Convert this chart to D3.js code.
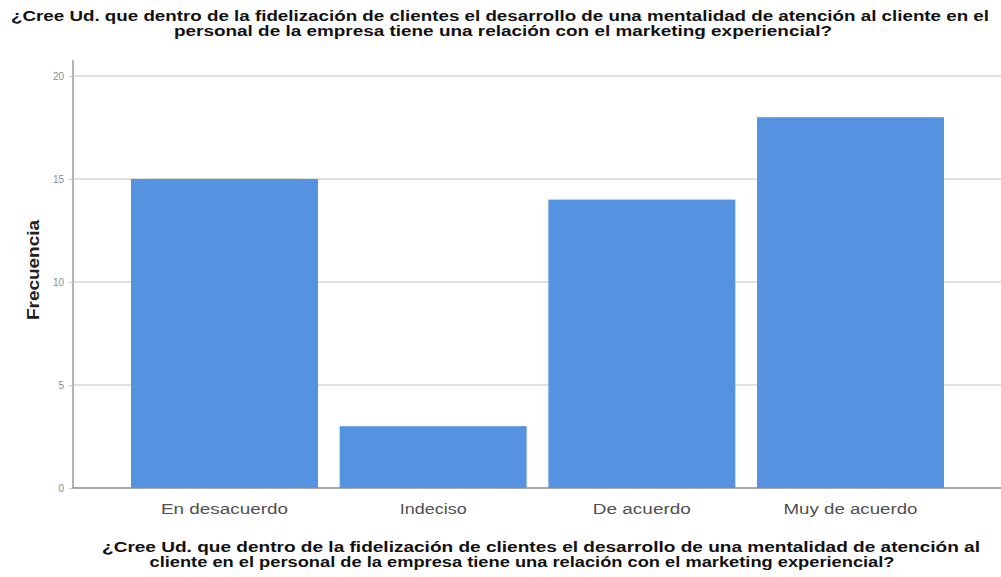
<!DOCTYPE html>
<html>
<head>
<meta charset="utf-8">
<script src="https://cdn.jsdelivr.net/npm/d3@7"></script>
<style>
  html, body { margin: 0; padding: 0; background: #fff; }
  svg { display: block; }
</style>
</head>
<body>
<svg id="chart" width="1001" height="577"></svg>
<script>
// Response categories and their frequencies
const categories = ["En desacuerdo", "Indeciso", "De acuerdo", "Muy de acuerdo"];
const frequencies = [15, 3, 14, 18];
const yTicks = [0, 5, 10, 15, 20];
const titleLines = [
  "¿Cree Ud. que dentro de la fidelización de clientes el desarrollo de una mentalidad de atención al cliente en el",
  "personal de la empresa tiene una relación con el marketing experiencial?"
];
const xTitleLines = [
  "¿Cree Ud. que dentro de la fidelización de clientes el desarrollo de una mentalidad de atención al",
  "cliente en el personal de la empresa tiene una relación con el marketing experiencial?"
];
const yTitle = "Frecuencia";

const svg = d3.select("#chart");
const plot = { left: 73, right: 1002, top: 60, bottom: 488 };
const font = "Liberation Sans, Arial, sans-serif";

const x = d3.scaleBand()
  .domain(categories)
  .range([plot.left, plot.right])
  .paddingInner(0.104)
  .paddingOuter(0.278);

const y = d3.scaleLinear()
  .domain([0, 20])
  .range([plot.bottom, 76]);

// horizontal grid lines
svg.append("g")
  .selectAll("line")
  .data(yTicks.filter(d => d > 0))
  .join("line")
  .attr("x1", plot.left)
  .attr("x2", plot.right)
  .attr("y1", d => y(d))
  .attr("y2", d => y(d))
  .attr("stroke", "#d4d4d4")
  .attr("stroke-width", 1.3);

// bars
svg.append("g")
  .selectAll("rect")
  .data(categories)
  .join("rect")
  .attr("x", d => x(d))
  .attr("width", x.bandwidth())
  .attr("y", (d, i) => y(frequencies[i]))
  .attr("height", (d, i) => y(0) - y(frequencies[i]))
  .attr("fill", "#5592e0");

// y axis
const yAxis = svg.append("g")
  .attr("transform", `translate(${plot.left},0)`)
  .call(d3.axisLeft(y).tickValues(yTicks).tickSize(4).tickPadding(5));
yAxis.select(".domain").attr("stroke", "#8a8a8a").attr("stroke-width", 1.3)
  .attr("d", `M0,${plot.top}V${plot.bottom}`);
yAxis.selectAll(".tick line").attr("stroke", "#c8c8c8");
yAxis.selectAll(".tick text")
  .attr("fill", "#8c8c8c")
  .style("font-family", font)
  .style("font-size", "10px");

// x axis
const labelWidths = [127, 67, 98, 134];
const xAxis = svg.append("g")
  .attr("transform", `translate(0,${plot.bottom})`)
  .call(d3.axisBottom(x).tickSize(0).tickPadding(0));
xAxis.select(".domain").attr("stroke", "#8a8a8a").attr("stroke-width", 1.3)
  .attr("d", `M${plot.left},0H${plot.right}`);
xAxis.selectAll(".tick text")
  .attr("dy", null)
  .attr("y", 26)
  .attr("fill", "#505050")
  .attr("textLength", (d, i) => labelWidths[i])
  .attr("lengthAdjust", "spacingAndGlyphs")
  .style("font-family", font)
  .style("font-size", "15.5px");

// y axis title
svg.append("text")
  .attr("transform", "translate(39,270) rotate(-90)")
  .attr("text-anchor", "middle")
  .attr("textLength", 100)
  .attr("lengthAdjust", "spacingAndGlyphs")
  .style("font-family", font)
  .style("font-weight", "bold")
  .style("font-size", "17px")
  .attr("fill", "#222")
  .text(yTitle);

// chart title
const titleWidths = [978, 658];
svg.append("g")
  .selectAll("text")
  .data(titleLines)
  .join("text")
  .attr("x", (d, i) => [500, 503][i])
  .attr("y", (d, i) => 21 + i * 15)
  .attr("text-anchor", "middle")
  .attr("textLength", (d, i) => titleWidths[i])
  .attr("lengthAdjust", "spacingAndGlyphs")
  .style("font-family", font)
  .style("font-weight", "bold")
  .style("font-size", "14px")
  .attr("fill", "#111")
  .text(d => d);

// x axis title
const xTitleWidths = [878, 745];
svg.append("g")
  .selectAll("text")
  .data(xTitleLines)
  .join("text")
  .attr("x", (d, i) => [541, 522][i])
  .attr("y", (d, i) => 552 + i * 15)
  .attr("text-anchor", "middle")
  .attr("textLength", (d, i) => xTitleWidths[i])
  .attr("lengthAdjust", "spacingAndGlyphs")
  .style("font-family", font)
  .style("font-weight", "bold")
  .style("font-size", "14px")
  .attr("fill", "#111")
  .text(d => d);
</script>
</body>
</html>
